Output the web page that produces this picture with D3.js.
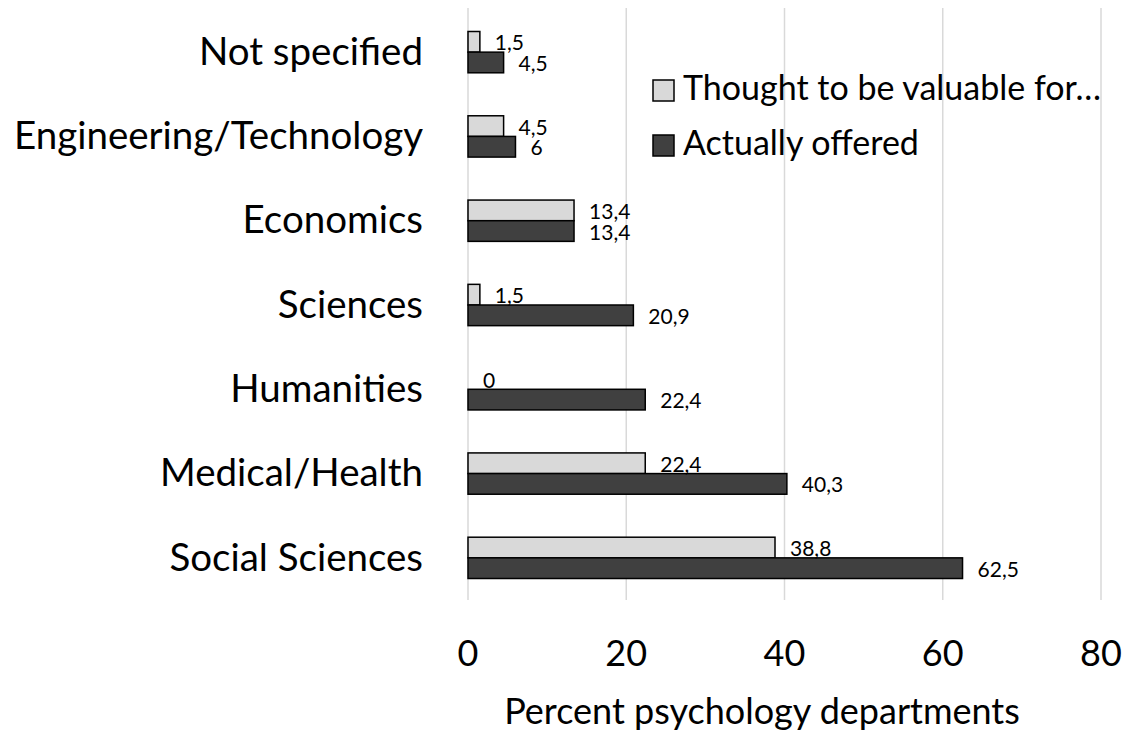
<!DOCTYPE html>
<html>
<head>
<meta charset="utf-8">
<script src="https://cdn.jsdelivr.net/npm/d3@7"></script>
<style>
  body { margin: 0; background: #fff; }
  svg text { font-family: Lato, "Open Sans", sans-serif; fill: #000; }
</style>
</head>
<body>
<div class="container"></div>
<script>
// categories, top to bottom
var categories = ["Not specified", "Engineering/Technology", "Economics", "Sciences",
  "Humanities", "Medical/Health", "Social Sciences"]
var thoughtValues = [1.5, 4.5, 13.4, 1.5, 0, 22.4, 38.8]
var offeredValues = [4.5, 6, 13.4, 20.9, 22.4, 40.3, 62.5]
var seriesNames = ["Thought to be valuable for…", "Actually offered"]
var xTicks = [0, 20, 40, 60, 80]

var width = 1129, height = 734

var svg = d3.select(".container").append("svg")
  .attr("width", width)
  .attr("height", height)

var x = d3.scaleLinear().domain([0, 80]).range([468, 1101])
var y = d3.scaleBand().domain(categories).range([10, 600]).paddingInner(0.51).paddingOuter(0.255)
var sub = d3.scaleBand().domain([0, 1]).range([0, y.bandwidth()])

var fmt = function(v) { return String(v).replace(".", ",") }

// gridlines
svg.append("g").selectAll("line")
  .data(xTicks)
  .enter().append("line")
  .attr("x1", function(d) { return x(d) })
  .attr("x2", function(d) { return x(d) })
  .attr("y1", 8)
  .attr("y2", 600)
  .attr("stroke", "#d9d9d9")
  .attr("stroke-width", 1.5)

var rows = categories.map(function(c, i) {
  return { cat: c, vals: [thoughtValues[i], offeredValues[i]] }
})

var colors = ["#d9d9d9", "#404040"]

var groups = svg.append("g").selectAll("g")
  .data(rows)
  .enter().append("g")
  .attr("transform", function(d) { return "translate(0," + y(d.cat) + ")" })

groups.selectAll("rect")
  .data(function(d) { return d.vals })
  .enter().append("rect")
  .attr("x", x(0))
  .attr("y", function(d, i) { return sub(i) })
  .attr("width", function(d) { return x(d) - x(0) })
  .attr("height", sub.bandwidth())
  .attr("fill", function(d, i) { return colors[i] })
  .attr("stroke", function(d) { return d > 0 ? "#000" : "none" })
  .attr("stroke-width", 1.5)

groups.selectAll("text.val")
  .data(function(d) { return d.vals })
  .enter().append("text")
  .attr("class", "val")
  .attr("x", function(d) { return x(d) + 15 })
  .attr("y", function(d, i) { return sub(i) + sub.bandwidth() / 2 + 1 })
  .attr("dy", "0.36em")
  .style("font-size", "21px")
  .text(function(d) { return fmt(d) })

// category labels
svg.append("g").selectAll("text")
  .data(categories)
  .enter().append("text")
  .attr("x", 423)
  .attr("y", function(d) { return y(d) + y.bandwidth() / 2 })
  .attr("dy", "0.33em")
  .attr("text-anchor", "end")
  .style("font-size", "38.5px")
  .text(function(d) { return d })

// x tick labels
svg.append("g").selectAll("text")
  .data(xTicks)
  .enter().append("text")
  .attr("x", function(d) { return x(d) })
  .attr("y", 666)
  .attr("text-anchor", "middle")
  .style("font-size", "36px")
  .text(function(d) { return d })

svg.append("text")
  .attr("x", 762)
  .attr("y", 724)
  .attr("text-anchor", "middle")
  .style("font-size", "36px")
  .text("Percent psychology departments")

// legend
var legend = svg.append("g").selectAll("g")
  .data(seriesNames)
  .enter().append("g")
  .attr("transform", function(d, i) { return "translate(653," + (90.5 + i * 55) + ")" })

legend.append("rect")
  .attr("x", 0)
  .attr("y", -10.5)
  .attr("width", 21)
  .attr("height", 21)
  .attr("fill", function(d, i) { return colors[i] })
  .attr("stroke", "#000")
  .attr("stroke-width", 1.5)

legend.append("text")
  .attr("x", 30)
  .attr("y", 9.5)
  .style("font-size", "34px")
  .text(function(d) { return d })
</script>
</body>
</html>
